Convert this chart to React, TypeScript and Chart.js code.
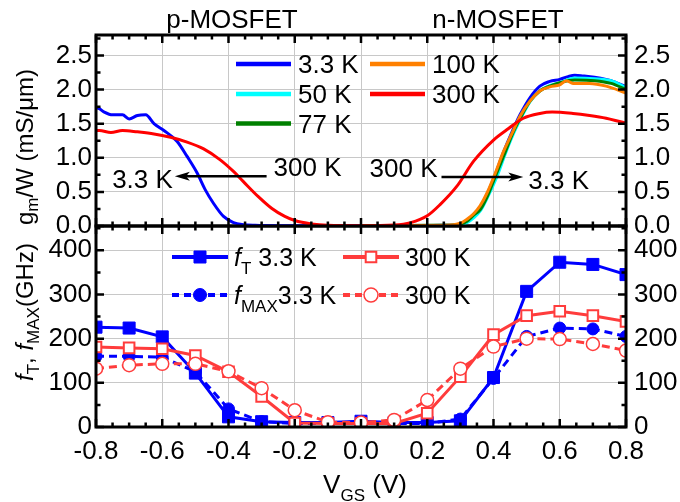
import React, { useEffect, useRef } from 'react';
import { Chart, registerables } from 'chart.js';

Chart.register(...registerables);

const FONT = '"Liberation Sans", Arial, Helvetica, sans-serif';
Chart.defaults.font.family = FONT;

// ---------- top panel: gm/W (mS/um) vs VGS (V) ----------
const gm33V = [-0.8, -0.79, -0.775, -0.75, -0.72, -0.7, -0.675, -0.65, -0.625, -0.595, -0.555, -0.525, -0.495, -0.47, -0.445, -0.415, -0.385, -0.355, -0.32, -0.25, -0.1, 0.1, 0.25, 0.3, 0.32, 0.34, 0.36, 0.38, 0.405, 0.43, 0.455, 0.48, 0.51, 0.54, 0.57, 0.6, 0.625, 0.645, 0.67, 0.705, 0.755, 0.8];
const gm33 = [1.74, 1.72, 1.67, 1.63, 1.63, 1.57, 1.62, 1.63, 1.5, 1.4, 1.24, 1.02, 0.78, 0.53, 0.33, 0.14, 0.05, 0.02, 0.01, 0.005, 0.005, 0.005, 0.01, 0.03, 0.08, 0.16, 0.28, 0.46, 0.75, 1.08, 1.37, 1.63, 1.88, 2.05, 2.12, 2.15, 2.19, 2.21, 2.2, 2.18, 2.13, 2.04];

const gm50V = [0, 0.25, 0.3, 0.32, 0.34, 0.36, 0.38, 0.41, 0.435, 0.46, 0.485, 0.51, 0.54, 0.57, 0.6, 0.645, 0.705, 0.755, 0.8];
const gm50 = [0.005, 0.01, 0.02, 0.05, 0.12, 0.22, 0.4, 0.72, 1.05, 1.35, 1.6, 1.82, 1.98, 2.06, 2.1, 2.17, 2.16, 2.13, 2.03];

const gm77V = [0, 0.25, 0.3, 0.32, 0.34, 0.36, 0.38, 0.405, 0.435, 0.46, 0.485, 0.51, 0.54, 0.57, 0.6, 0.645, 0.705, 0.755, 0.8];
const gm77 = [0.005, 0.01, 0.03, 0.07, 0.16, 0.24, 0.42, 0.72, 1.08, 1.38, 1.62, 1.83, 1.98, 2.05, 2.1, 2.14, 2.13, 2.09, 2.0];

const gm100V = [0, 0.25, 0.3, 0.32, 0.34, 0.36, 0.38, 0.405, 0.43, 0.456, 0.48, 0.51, 0.54, 0.57, 0.6, 0.62, 0.64, 0.69, 0.74, 0.8];
const gm100 = [0.005, 0.01, 0.04, 0.1, 0.18, 0.3, 0.48, 0.77, 1.09, 1.36, 1.61, 1.83, 1.98, 2.04, 2.07, 2.13, 2.09, 2.09, 2.05, 1.95];

const gm300V = [-0.8, -0.79, -0.755, -0.72, -0.675, -0.625, -0.575, -0.525, -0.475, -0.425, -0.385, -0.355, -0.31, -0.27, -0.23, -0.2, -0.15, -0.1, 0, 0.1, 0.15, 0.2, 0.238, 0.289, 0.34, 0.4, 0.44, 0.49, 0.54, 0.577, 0.64, 0.69, 0.74, 0.79, 0.8];
const gm300 = [1.4, 1.4, 1.37, 1.4, 1.38, 1.35, 1.3, 1.23, 1.13, 0.97, 0.8, 0.65, 0.43, 0.26, 0.14, 0.08, 0.03, 0.01, 0.005, 0.015, 0.05, 0.15, 0.31, 0.58, 0.95, 1.26, 1.41, 1.58, 1.65, 1.67, 1.65, 1.62, 1.58, 1.52, 1.51];

const gmLabels = ['3.3 K', '50 K', '77 K', '100 K', '300 K'];
const gmColors = ['#0000ff', '#00ffff', '#008000', '#ff8000', '#ff0000'];

// ---------- bottom panel: fT, fMAX (GHz) vs VGS (V) ----------
const vgs = [-0.8, -0.7, -0.6, -0.5, -0.4, -0.3, -0.2, -0.1, 0, 0.1, 0.2, 0.3, 0.4, 0.5, 0.6, 0.7, 0.8];
const fT33 = [226, 224, 204, 122, 23, 12, 10, 10, 13, 10, 10, 14, 112, 307, 373, 368, 345];
const fMax33 = [160, 160, 158, 125, 41, 12, 8, 8, 12, 8, 8, 18, 110, 205, 224, 222, 205];
const fT300 = [181, 179, 177, 162, 125, 69, 9, 8, 8, 8, 31, 114, 209, 252, 262, 252, 239];
const fMax300 = [132, 140, 143, 143, 126, 88, 38, 11, 10, 16, 61, 132, 182, 200, 199, 188, 173];

// ---------- axes / text ----------
const xTicks = [-0.8, -0.6, -0.4, -0.2, 0, 0.2, 0.4, 0.6, 0.8];
const gmTicks = [0, 0.5, 1, 1.5, 2, 2.5];
const fTicks = [0, 100, 200, 300, 400];
const panelTitles = ['p-MOSFET', 'n-MOSFET'];

const BLUE = '#0000ff';
const RED2 = '#ff3c3c';
const GRID = '#c8c8c8';

const W = 680, H = 502;
const LEFT = 96, RIGHT = 626, TOP1 = 35, MID = 226, BOT = 427;

type Part = { t: string; sub?: boolean; it?: boolean };

function partFont(p: Part, size: number, subSize: number) {
  return `${p.it ? 'italic ' : ''}${p.sub ? subSize : size}px ${FONT}`;
}
function richWidth(ctx: CanvasRenderingContext2D, parts: Part[], size: number, subSize: number) {
  let w = 0;
  for (const p of parts) {
    ctx.font = partFont(p, size, subSize);
    w += ctx.measureText(p.t).width;
  }
  return w;
}
function drawRich(ctx: CanvasRenderingContext2D, parts: Part[], x: number, y: number, size: number, subSize: number, subDy: number, align: 'left' | 'center' | 'right' = 'left') {
  const w = richWidth(ctx, parts, size, subSize);
  let cx = align === 'left' ? x : align === 'center' ? x - w / 2 : x - w;
  ctx.textAlign = 'left';
  ctx.textBaseline = 'alphabetic';
  ctx.fillStyle = '#000';
  for (const p of parts) {
    ctx.font = partFont(p, size, subSize);
    ctx.fillText(p.t, cx, p.sub ? y + subDy : y);
    cx += ctx.measureText(p.t).width;
  }
}

function drawFrame(ctx: CanvasRenderingContext2D, area: any, xs: any, ys: any, yMax: number, yMinor: number) {
  ctx.save();
  ctx.strokeStyle = '#000';
  ctx.lineWidth = 2.5;
  ctx.beginPath();
  for (let i = -16; i <= 16; i++) {
    const px = xs.getPixelForValue(i * 0.05);
    const len = i % 4 === 0 ? 8 : 4.5;
    ctx.moveTo(px, area.top); ctx.lineTo(px, area.top + len);
    ctx.moveTo(px, area.bottom); ctx.lineTo(px, area.bottom - len);
  }
  for (let k = 0; k * yMinor < yMax - 1e-9; k++) {
    const py = ys.getPixelForValue(k * yMinor);
    const len = k % 2 === 0 ? 8 : 4.5;
    ctx.moveTo(area.left, py); ctx.lineTo(area.left + len, py);
    ctx.moveTo(area.right, py); ctx.lineTo(area.right - len, py);
  }
  ctx.stroke();
  ctx.lineWidth = 3;
  ctx.strokeRect(area.left, area.top, area.right - area.left, area.bottom - area.top);
  ctx.restore();
}

function drawArrow(ctx: CanvasRenderingContext2D, x1: number, y: number, x2: number) {
  const dir = Math.sign(x2 - x1);
  const head = 15, half = 4.5;
  ctx.save();
  ctx.strokeStyle = '#000';
  ctx.fillStyle = '#000';
  ctx.lineWidth = 2.5;
  ctx.beginPath();
  ctx.moveTo(x1, y);
  ctx.lineTo(x2 - dir * head * 0.7, y);
  ctx.stroke();
  ctx.beginPath();
  ctx.moveTo(x2, y);
  ctx.lineTo(x2 - dir * head, y - half);
  ctx.lineTo(x2 - dir * head * 0.75, y);
  ctx.lineTo(x2 - dir * head, y + half);
  ctx.closePath();
  ctx.fill();
  ctx.restore();
}

function drawMarker(ctx: CanvasRenderingContext2D, style: string, x: number, y: number, r: number, fill: string, stroke: string, bw: number) {
  ctx.save();
  ctx.fillStyle = fill;
  ctx.strokeStyle = stroke;
  ctx.lineWidth = bw;
  ctx.setLineDash([]);
  ctx.beginPath();
  if (style === 'rect') {
    const s = r * Math.SQRT1_2;
    ctx.rect(x - s, y - s, 2 * s, 2 * s);
  } else {
    ctx.arc(x, y, r, 0, Math.PI * 2);
  }
  ctx.fill();
  ctx.stroke();
  ctx.restore();
}

const pts = (xs: number[], ys: number[]) => xs.map((x, i) => ({ x, y: ys[i] }));

const gmSeries = [
  { x: gm33V, y: gm33 },
  { x: gm50V, y: gm50 },
  { x: gm77V, y: gm77 },
  { x: gm100V, y: gm100 },
  { x: gm300V, y: gm300 },
];

const arrowLeft = { from: -0.285, to: -0.562, gm: 0.73 };
const arrowRight = { from: 0.243, to: 0.49, gm: 0.72 };

const topDecor = {
  id: 'topDecor',
  afterDraw(chart: any) {
    const ctx: CanvasRenderingContext2D = chart.ctx;
    const xs = chart.scales.x, ys = chart.scales.y;
    drawFrame(ctx, chart.chartArea, xs, ys, 2.8, 0.25);
    // panel titles
    drawRich(ctx, [{ t: panelTitles[0] }], 232, 28, 26, 18, 0, 'center');
    drawRich(ctx, [{ t: panelTitles[1] }], 498, 28, 26, 18, 0, 'center');
    // arrows + labels
    const yl = ys.getPixelForValue(arrowLeft.gm);
    const xlTail = xs.getPixelForValue(arrowLeft.from), xlTip = xs.getPixelForValue(arrowLeft.to);
    drawArrow(ctx, xlTail, yl, xlTip);
    drawRich(ctx, [{ t: '3.3 K' }], xlTip - 2, yl + 12, 26, 18, 0, 'right');
    drawRich(ctx, [{ t: '300 K' }], xlTail + 7, yl, 26, 18, 0, 'left');
    const yr = ys.getPixelForValue(arrowRight.gm);
    const xrTail = xs.getPixelForValue(arrowRight.from), xrTip = xs.getPixelForValue(arrowRight.to);
    drawArrow(ctx, xrTail, yr, xrTip);
    drawRich(ctx, [{ t: '300 K' }], xrTail - 4, yr, 26, 18, 0, 'right');
    drawRich(ctx, [{ t: '3.3 K' }], xrTip + 5, yr + 12, 26, 18, 0, 'left');
    // legend
    const cols = [236, 370];
    const rows = [64, 94, 123.5];
    gmLabels.forEach((lab, i) => {
      const c = i < 3 ? 0 : 1;
      const r = i < 3 ? i : i - 3;
      const x0 = cols[c], y0 = rows[r];
      ctx.save();
      ctx.strokeStyle = gmColors[i];
      ctx.lineWidth = 4.5;
      ctx.beginPath();
      ctx.moveTo(x0, y0);
      ctx.lineTo(x0 + 55, y0);
      ctx.stroke();
      ctx.restore();
      drawRich(ctx, [{ t: lab }], x0 + 62, y0 + 9, 26, 18, 0, 'left');
    });
    // y title
    ctx.save();
    ctx.translate(33, 147);
    ctx.rotate(-Math.PI / 2);
    drawRich(ctx, [{ t: 'g' }, { t: 'm', sub: true }, { t: '/W (mS/μm)' }], 0, 0, 24, 17, 5, 'center');
    ctx.restore();
  },
};

const bottomSeries = [
  { data: fT33, color: BLUE, dash: [] as number[], style: 'rect', r: 8.5, fill: BLUE, bw: 1, order: 2, lr: 8.5 },
  { data: fT300, color: RED2, dash: [] as number[], style: 'rect', r: 7.5, fill: '#ffffff', bw: 2, order: 1, lr: 7.5 },
  { data: fMax33, color: BLUE, dash: [8, 5], style: 'circle', r: 6, fill: BLUE, bw: 1, order: 3, lr: 6.5 },
  { data: fMax300, color: RED2, dash: [8, 5], style: 'circle', r: 6.5, fill: '#ffffff', bw: 1.5, order: 0, lr: 7 },
];

const bottomDecor = {
  id: 'bottomDecor',
  afterDraw(chart: any) {
    const ctx: CanvasRenderingContext2D = chart.ctx;
    const xs = chart.scales.x, ys = chart.scales.y;
    drawFrame(ctx, chart.chartArea, xs, ys, 455, 50);
    // legend
    const items = [
      { s: bottomSeries[0], x0: 172, y0: 257, text: [{ t: 'f', it: true }, { t: 'T', sub: true }, { t: ' 3.3 K' }] as Part[] },
      { s: bottomSeries[1], x0: 343, y0: 257, text: [{ t: '300 K' }] as Part[] },
      { s: bottomSeries[2], x0: 172, y0: 295, text: [{ t: 'f', it: true }, { t: 'MAX', sub: true }, { t: '3.3 K' }] as Part[] },
      { s: bottomSeries[3], x0: 343, y0: 295, text: [{ t: '300 K' }] as Part[] },
    ];
    items.forEach((it) => {
      ctx.save();
      ctx.strokeStyle = it.s.color;
      ctx.lineWidth = 4;
      ctx.setLineDash(it.s.dash.length ? [7, 5] : []);
      ctx.beginPath();
      ctx.moveTo(it.x0, it.y0);
      ctx.lineTo(it.x0 + 56, it.y0);
      ctx.stroke();
      ctx.restore();
      drawMarker(ctx, it.s.style, it.x0 + 28, it.y0, it.s.lr, it.s.fill, it.s.color, it.s.bw);
      drawRich(ctx, it.text, it.x0 + 62, it.y0 + 9, 25, 17, 8, 'left');
    });
    // y title
    ctx.save();
    ctx.translate(33, 312);
    ctx.rotate(-Math.PI / 2);
    drawRich(ctx, [{ t: 'f', it: true }, { t: 'T', sub: true }, { t: ', ' }, { t: 'f', it: true }, { t: 'MAX', sub: true }, { t: '(GHz)' }], 0, 0, 24, 17, 6, 'center');
    ctx.restore();
    // x title
    drawRich(ctx, [{ t: 'V' }, { t: 'GS', sub: true }, { t: ' (V)' }], 365, 493, 26, 17, 8, 'center');
  },
};

function fixedTicks(values: number[]) {
  return (s: any) => {
    s.ticks = values.map((v) => ({ value: v }));
  };
}

const tickFont = { family: FONT, size: 26 };

export default function App() {
  const topRef = useRef<HTMLCanvasElement>(null);
  const botRef = useRef<HTMLCanvasElement>(null);

  useEffect(() => {
    const top = new Chart(topRef.current!, {
      type: 'line',
      data: {
        datasets: gmSeries.map((s, i) => ({
          label: gmLabels[i],
          data: pts(s.x, s.y),
          borderColor: gmColors[i],
          backgroundColor: gmColors[i],
          borderWidth: 3,
          pointRadius: 0,
          cubicInterpolationMode: 'monotone' as const,
          fill: false,
          order: 4 - i,
        })),
      },
      options: {
        responsive: false,
        animation: false,
        devicePixelRatio: 1,
        layout: { padding: { left: 0, right: 0, top: TOP1, bottom: H - MID } },
        plugins: { legend: { display: false }, tooltip: { enabled: false } },
        scales: {
          x: {
            type: 'linear', min: -0.8, max: 0.8,
            afterBuildTicks: fixedTicks(xTicks),
            ticks: { display: false },
            grid: { color: GRID, lineWidth: 1, drawTicks: false },
            border: { display: false },
            afterFit: (s: any) => { s.height = 0; },
          },
          y: {
            type: 'linear', position: 'left', min: 0, max: 2.8,
            afterBuildTicks: fixedTicks(gmTicks),
            ticks: { font: tickFont, color: '#000', padding: 4, callback: (v: any) => Number(v).toFixed(1) },
            grid: { color: GRID, lineWidth: 1, drawTicks: false },
            border: { display: false },
            afterFit: (s: any) => { s.width = LEFT; },
          },
          y2: {
            type: 'linear', position: 'right', min: 0, max: 2.8,
            afterBuildTicks: fixedTicks(gmTicks),
            ticks: { font: tickFont, color: '#000', padding: 8, callback: (v: any) => Number(v).toFixed(1) },
            grid: { display: false, drawTicks: false },
            border: { display: false },
            afterFit: (s: any) => { s.width = W - RIGHT; },
          },
        },
      } as any,
      plugins: [topDecor],
    });

    const bot = new Chart(botRef.current!, {
      type: 'line',
      data: {
        datasets: bottomSeries.map((s) => ({
          data: pts(vgs, s.data),
          borderColor: s.color,
          backgroundColor: s.fill,
          borderWidth: 3,
          borderDash: s.dash,
          pointStyle: s.style,
          pointRadius: s.r,
          pointBackgroundColor: s.fill,
          pointBorderColor: s.color,
          pointBorderWidth: s.bw,
          tension: 0,
          fill: false,
          order: s.order,
        })),
      },
      options: {
        responsive: false,
        animation: false,
        devicePixelRatio: 1,
        layout: { padding: { left: 0, right: 0, top: MID, bottom: 0 } },
        plugins: { legend: { display: false }, tooltip: { enabled: false } },
        scales: {
          x: {
            type: 'linear', min: -0.8, max: 0.8,
            afterBuildTicks: fixedTicks(xTicks),
            ticks: { font: tickFont, color: '#000', padding: 9, maxRotation: 0, autoSkip: false, callback: (v: any) => Number(v).toFixed(1) },
            grid: { color: GRID, lineWidth: 1, drawTicks: false },
            border: { display: false },
            afterFit: (s: any) => { s.height = H - BOT; },
          },
          y: {
            type: 'linear', position: 'left', min: 0, max: 455,
            afterBuildTicks: fixedTicks(fTicks),
            ticks: { font: tickFont, color: '#000', padding: 4, callback: (v: any) => String(v) },
            grid: { color: GRID, lineWidth: 1, drawTicks: false },
            border: { display: false },
            afterFit: (s: any) => { s.width = LEFT; },
          },
          y2: {
            type: 'linear', position: 'right', min: 0, max: 455,
            afterBuildTicks: fixedTicks(fTicks),
            ticks: { font: tickFont, color: '#000', padding: 8, callback: (v: any) => String(v) },
            grid: { display: false, drawTicks: false },
            border: { display: false },
            afterFit: (s: any) => { s.width = W - RIGHT; },
          },
        },
      } as any,
      plugins: [bottomDecor],
    });

    return () => {
      top.destroy();
      bot.destroy();
    };
  }, []);

  const cstyle: React.CSSProperties = { position: 'absolute', left: 0, top: 0, width: W, height: H };
  return (
    <div style={{ position: 'fixed', left: 0, top: 0, width: W, height: H, background: '#fff' }}>
      <canvas ref={botRef} width={W} height={H} style={cstyle} />
      <canvas ref={topRef} width={W} height={H} style={cstyle} />
    </div>
  );
}
